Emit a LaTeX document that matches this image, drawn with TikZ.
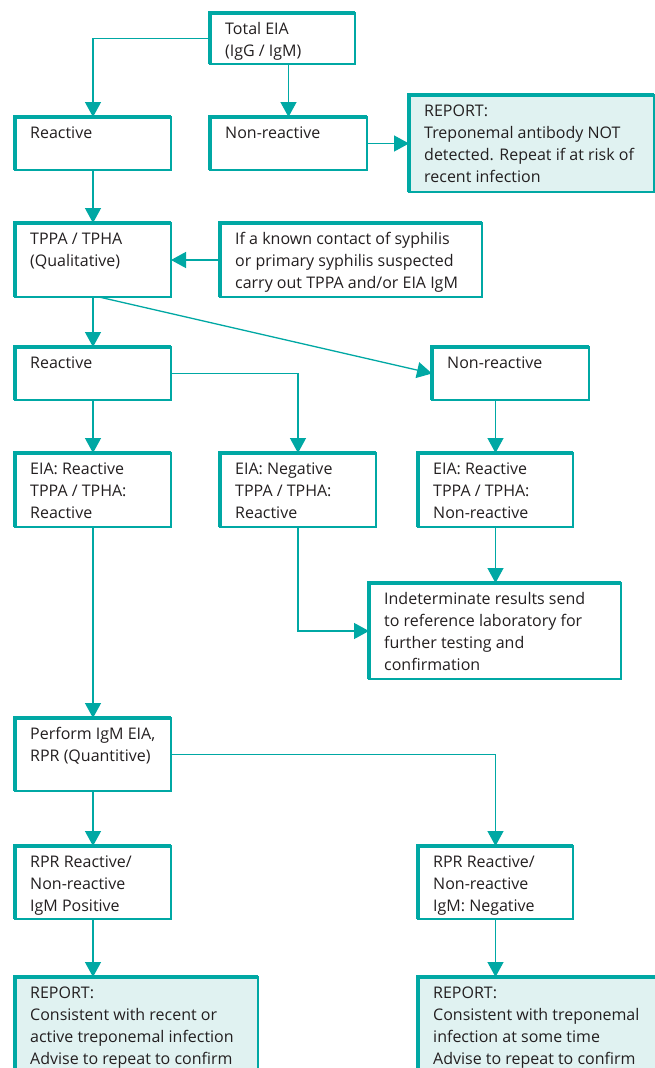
\documentclass[tikz,border=0pt]{standalone}
\usepackage{fontspec}
\setmainfont{Open Sans}
\usetikzlibrary{arrows.meta}
\definecolor{flowteal}{RGB}{0,168,164}
\definecolor{reportfill}{RGB}{224,242,241}
\definecolor{ink}{RGB}{35,31,32}
\tikzset{
  boxshape/.style={draw=flowteal, line width=1.5pt, anchor=north west,
    inner sep=0pt, outer sep=0pt},
  heavyedge/.style={draw=flowteal, line width=4pt, line join=miter},
  boxtext/.style={anchor=north west, inner sep=0pt, align=left, text=ink,
    font=\fontsize{16}{22}\selectfont},
  flow/.style={draw=flowteal, line width=1.3pt,
    -{Triangle[length=15pt,width=16pt]}},
}
% box with heavy top/left rule and text set from the top-left corner
\newcommand\flowbox[7]{%
  \node[boxshape, fill=#6, minimum width=#4pt, minimum height=#5pt] (#1) at (#2,#3) {};
  \draw[heavyedge] (#1.south west) -- (#1.north west) -- (#1.north east);
  \node[boxtext] at ([shift={(15,6)}]#1.north west) {\rule{0pt}{15pt}#7};
}
\begin{document}
\begin{tikzpicture}[x=1pt,y=-1pt]
\useasboundingbox (0,0) rectangle (655,1068);
\clip (0,0) rectangle (655,1068);
\fill[white] (0,0) rectangle (655,1068);

\flowbox{tot}{210}{13}{145}{51}{white}{Total EIA\\(IgG / IgM)}
\flowbox{rA}{15}{117}{156}{53}{white}{Reactive}
\flowbox{nrA}{210}{117}{157}{53}{white}{Non-reactive}
\flowbox{repA}{409}{95}{245}{97}{reportfill}{REPORT:\\Treponemal antibody NOT\\detected. Repeat if at risk of\\recent infection}
\flowbox{tppa}{15}{223}{156}{74}{white}{TPPA / TPHA\\(Qualitative)}
\flowbox{cont}{220}{223}{262}{74}{white}{If a known contact of syphilis\\or primary syphilis suspected\\carry out TPPA and/or EIA IgM}
\flowbox{rB}{15}{347}{156}{53}{white}{Reactive}
\flowbox{nrB}{432}{347}{157}{53}{white}{Non-reactive}
\flowbox{eiaA}{15}{453}{156}{74}{white}{EIA: Reactive\\TPPA / TPHA:\\Reactive}
\flowbox{eiaB}{220}{453}{156}{74}{white}{EIA: Negative\\TPPA / TPHA:\\Reactive}
\flowbox{eiaC}{418}{453}{155}{74}{white}{EIA: Reactive\\TPPA / TPHA:\\Non-reactive}
\flowbox{ind}{369}{583}{252}{96}{white}{Indeterminate results send\\to reference laboratory for\\further testing and\\confirmation}
\flowbox{perf}{15}{718}{156}{73}{white}{Perform IgM EIA,\\RPR (Quantitive)}
\flowbox{rprA}{15}{846}{156}{73}{white}{RPR Reactive/\\Non-reactive\\IgM Positive}
\flowbox{rprB}{418}{846}{155}{73}{white}{RPR Reactive/\\Non-reactive\\IgM: Negative}
\flowbox{repB}{15}{977}{243}{110}{reportfill}{REPORT:\\Consistent with recent or\\active treponemal infection\\Advise to repeat to confirm}
\flowbox{repC}{418}{977}{245}{110}{reportfill}{REPORT:\\Consistent with treponemal\\infection at some time\\Advise to repeat to confirm}

% connectors
\draw[flow] (tot.west) -| (rA.north);
\draw[flow] (tot.south -| nrA.north) -- (nrA.north);
\draw[flow] (nrA.east) -- (repA.west |- nrA.east);
\draw[flow] (rA.south) -- (tppa.north);
\draw[flow] (cont.west) -- (tppa.east);
\draw[flow] (tppa.south) -- (rB.north);
\draw[flow] ([xshift=6pt]tppa.south) -- (nrB.west);
\draw[flow] (rB.east) -| (eiaB.north);
\draw[flow] (rB.south) -- (eiaA.north);
\draw[flow] (nrB.south -| eiaC.north) -- (eiaC.north);
\draw[flow] (eiaC.south) -- (eiaC.south |- ind.north);
\draw[flow] (eiaB.south) |- (ind.west);
\draw[flow] (eiaA.south) -- (perf.north);
\draw[flow] (perf.south) -- (rprA.north);
\draw[flow] (perf.east) -| (rprB.north);
\draw[flow] (rprA.south) -- (rprA.south |- repB.north);
\draw[flow] (rprB.south) -- (rprB.south |- repC.north);
\end{tikzpicture}
\end{document}
